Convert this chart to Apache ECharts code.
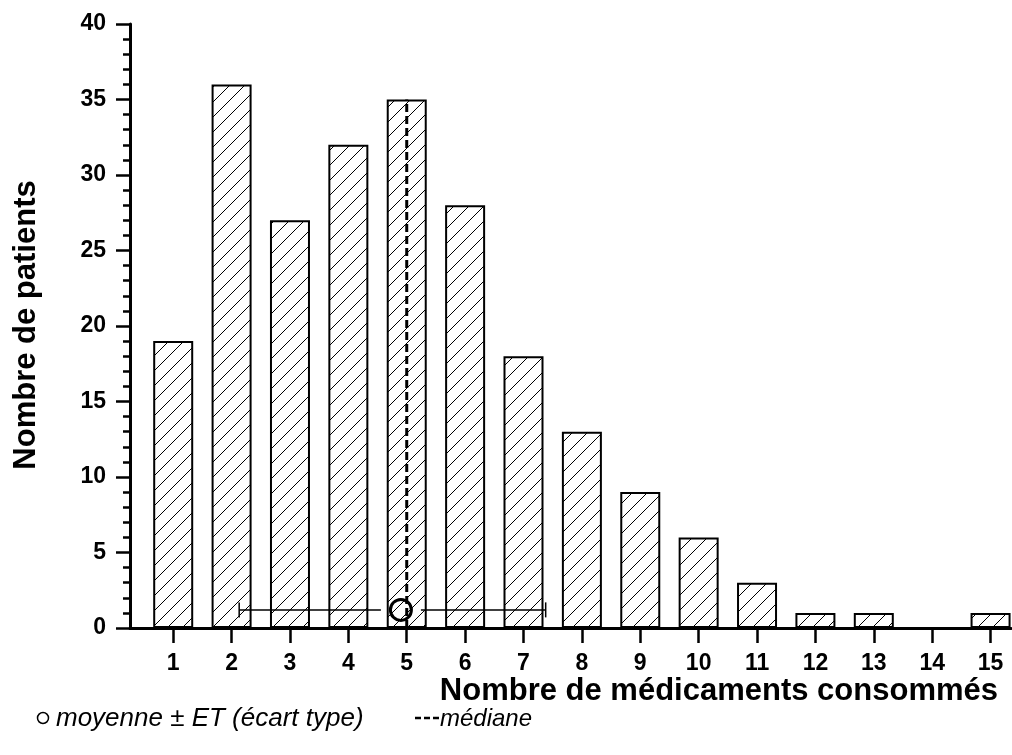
<!DOCTYPE html>
<html>
<head>
<meta charset="utf-8">
<script src="https://cdn.jsdelivr.net/npm/echarts@6/dist/echarts.min.js"></script>
<style>
  html, body { margin: 0; padding: 0; background: #fff; }
  #chart { width: 1012px; height: 755px; }
</style>
</head>
<body>
<div id="chart"></div>
<script>
// Number of drugs taken per patient (1..15) and patient counts
const categories = [1, 2, 3, 4, 5, 6, 7, 8, 9, 10, 11, 12, 13, 14, 15];
const patientCounts = [19, 36, 27, 32, 35, 28, 18, 13, 9, 6, 3, 1, 1, 0, 1];
const tickLabels = ['1', '2', '3', '4', '5', '6', '7', '8', '9', '10', '11', '12', '13', '14', '15'];

// Mean ± standard deviation, drawn near the base of the chart
const meanStats = [4.9, 1.2, 2.13, 7.38]; // [mean, height, mean - SD, mean + SD]
// Median, drawn as a dashed vertical line up to the top of its bar
const medianLine = [[5, 0], [5, 35]];

const FONT = '"Liberation Sans", Arial, Helvetica, sans-serif';

// Diagonal hatch pattern for the bars
function hatchPattern() {
  const s = 15;
  const c = document.createElement('canvas');
  c.width = s; c.height = s;
  const ctx = c.getContext('2d');
  ctx.fillStyle = '#fff';
  ctx.fillRect(0, 0, s, s);
  ctx.strokeStyle = '#000';
  ctx.lineWidth = 1;
  ctx.beginPath();
  ctx.moveTo(0, s); ctx.lineTo(s, 0);
  ctx.moveTo(-2, 2); ctx.lineTo(2, -2);
  ctx.moveTo(s - 2, s + 2); ctx.lineTo(s + 2, s - 2);
  ctx.stroke();
  return c;
}

const chart = echarts.init(document.getElementById('chart'), null, { renderer: 'canvas' });

const barData = categories.map((c, i) => [c, patientCounts[i]]);

const option = {
  animation: false,
  backgroundColor: '#fff',
  grid: { left: 130, right: 1, top: 24, bottom: 127, containLabel: false },
  xAxis: {
    type: 'value',
    min: 0.26,
    max: 15.35,
    splitLine: { show: false },
    axisLine: { show: true, onZero: false, lineStyle: { color: '#000', width: 3 } },
    axisTick: {
      show: true,
      customValues: categories,
      length: 15,
      lineStyle: { color: '#000', width: 2.5 }
    },
    axisLabel: {
      customValues: categories,
      formatter: v => tickLabels[categories.indexOf(Math.round(v))] || '',
      color: '#000',
      fontFamily: FONT,
      fontWeight: 'bold',
      fontSize: 23,
      margin: 24
    }
  },
  yAxis: {
    type: 'value',
    min: 0,
    max: 40,
    interval: 5,
    splitLine: { show: false },
    axisLine: { show: true, lineStyle: { color: '#000', width: 3 } },
    axisTick: { show: true, length: 14, lineStyle: { color: '#000', width: 2.5 } },
    minorTick: { show: true, splitNumber: 5, length: 7, lineStyle: { color: '#000', width: 2.5 } },
    axisLabel: {
      color: '#000',
      fontFamily: FONT,
      fontWeight: 'bold',
      fontSize: 23,
      margin: 24
    }
  },
  series: [
    {
      type: 'bar',
      data: barData,
      barWidth: 40,
      itemStyle: {
        color: { image: hatchPattern(), repeat: 'repeat' },
        borderColor: '#000',
        borderWidth: 2
      },
      z: 2
    },
    {
      type: 'line',
      data: medianLine,
      symbol: 'none',
      lineStyle: { color: '#000', width: 3, type: [8, 4] },
      z: 3
    },
    {
      type: 'custom',
      data: [meanStats],
      encode: { x: [0, 2, 3], y: 1 },
      z: 4,
      renderItem: function (params, api) {
        const c = api.coord([api.value(0), api.value(1)]);
        const lo = api.coord([api.value(2), api.value(1)]);
        const hi = api.coord([api.value(3), api.value(1)]);
        const r = 10.5, gap = 20, cap = 7.5;
        const ls = { stroke: '#000', lineWidth: 1.5 };
        return {
          type: 'group',
          children: [
            { type: 'line', shape: { x1: lo[0], y1: c[1], x2: c[0] - gap, y2: c[1] }, style: ls },
            { type: 'line', shape: { x1: c[0] + gap, y1: c[1], x2: hi[0], y2: c[1] }, style: ls },
            { type: 'line', shape: { x1: lo[0], y1: c[1] - cap, x2: lo[0], y2: c[1] + cap }, style: ls },
            { type: 'line', shape: { x1: hi[0], y1: c[1] - cap, x2: hi[0], y2: c[1] + cap }, style: ls },
            { type: 'circle', shape: { cx: c[0], cy: c[1], r: r }, style: { fill: 'none', stroke: '#000', lineWidth: 3 } }
          ]
        };
      }
    }
  ],
  graphic: [
    {
      type: 'text',
      x: 26, y: 325,
      rotation: Math.PI / 2,
      style: {
        text: 'Nombre de patients',
        fontFamily: FONT, fontWeight: 'bold', fontSize: 31,
        fill: '#000', align: 'center', verticalAlign: 'middle'
      }
    },
    {
      type: 'text',
      x: 998, y: 691,
      style: {
        text: 'Nombre de médicaments consommés',
        fontFamily: FONT, fontWeight: 'bold', fontSize: 31,
        fill: '#000', align: 'right', verticalAlign: 'middle'
      }
    },
    {
      type: 'circle',
      shape: { cx: 43, cy: 718, r: 5.5 },
      style: { fill: 'none', stroke: '#000', lineWidth: 1.5 }
    },
    {
      type: 'text',
      x: 56, y: 719,
      style: {
        text: 'moyenne ± ET (écart type)',
        fontFamily: FONT, fontStyle: 'italic', fontSize: 26,
        fill: '#000', align: 'left', verticalAlign: 'middle'
      }
    },
    {
      type: 'line',
      shape: { x1: 415, y1: 718, x2: 439, y2: 718 },
      style: { stroke: '#000', lineWidth: 2.5, lineDash: [6, 3] }
    },
    {
      type: 'text',
      x: 440, y: 719,
      style: {
        text: 'médiane',
        fontFamily: FONT, fontStyle: 'italic', fontSize: 24,
        fill: '#000', align: 'left', verticalAlign: 'middle'
      }
    }
  ]
};

chart.setOption(option);
</script>
</body>
</html>
